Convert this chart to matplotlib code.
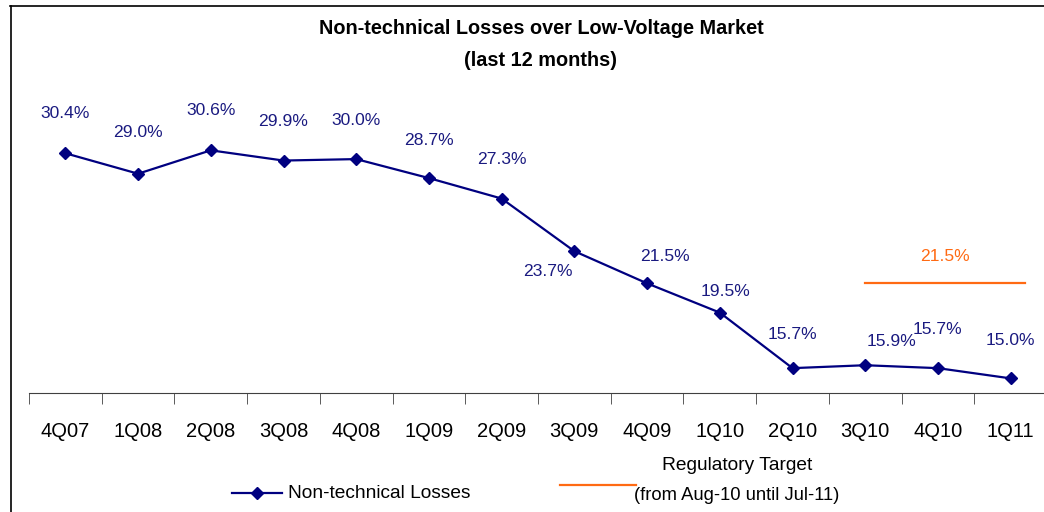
import matplotlib
matplotlib.use('Agg')
import matplotlib.pyplot as plt
from matplotlib.lines import Line2D

plt.rcParams['font.family'] = ['Liberation Sans', 'DejaVu Sans']

# data
quarters = ['4Q07', '1Q08', '2Q08', '3Q08', '4Q08', '1Q09', '2Q09',
            '3Q09', '4Q09', '1Q10', '2Q10', '3Q10', '4Q10', '1Q11']
losses = [30.4, 29.0, 30.6, 29.9, 30.0, 28.7, 27.3,
          23.7, 21.5, 19.5, 15.7, 15.9, 15.7, 15.0]
target_value = 21.5
target_span = ['3Q10', '1Q11']

# label offsets in pixels (layout only)
label_offsets = [(0, 40), (0, 41), (0, 40), (0, 39), (0, 39), (0, 38), (0, 39),
                 (-26, -20), (18, 27), (6, 21), (0, 34), (26, 24), (0, 39), (0, 38)]

NAVY = '#000080'
LABEL = '#1a1a80'
ORANGE = '#ff6a13'

W, H = 1044, 512
fig = plt.figure(figsize=(W / 100, H / 100), dpi=100)

# axes placed in pixel terms (right edge runs off the picture, like the source)
ax_left, ax_right, ax_bottom, ax_top = 29, 1047, 393, 86
ax = fig.add_axes([ax_left / W, 1 - ax_bottom / H,
                   (ax_right - ax_left) / W, (ax_bottom - ax_top) / H])

x = list(range(len(quarters)))
ax.plot(x, losses, color=NAVY, lw=1.6, marker='D', ms=6.5, zorder=3)

for xi, v, (dx, dy) in zip(x, losses, label_offsets):
    ax.annotate(f'{v:.1f}%', (xi, v), xytext=(dx, dy), textcoords='offset pixels',
                ha='center', va='center', fontsize=12.6, color=LABEL)

# regulatory target line
t0 = quarters.index(target_span[0])
t1 = quarters.index(target_span[1])
ax.plot([t0, t1 + 0.2], [target_value, target_value], color=ORANGE, lw=1.6)
ax.annotate(f'{target_value:.1f}%', ((t0 + t1 + 0.2) / 2, target_value),
            xytext=(0, 27), textcoords='offset pixels',
            ha='center', va='center', fontsize=12.6, color=ORANGE)

ax.set_xlim(-0.5, len(quarters) - 0.5)
ax.set_ylim(14, 35)
for s in ['top', 'right', 'left']:
    ax.spines[s].set_visible(False)
ax.spines['bottom'].set_color('#404040')
ax.set_yticks([])
ax.set_xticks(x)
ax.set_xticklabels(quarters, fontsize=14.5)
ax.tick_params(axis='x', which='major', length=0, pad=21)
ax.set_xticks([i - 0.5 for i in x], minor=True)
ax.tick_params(axis='x', which='minor', length=8, color='#404040', direction='out')

# title
fig.text(541 / W, 1 - 28 / H, 'Non-technical Losses over Low-Voltage Market',
         ha='center', va='center', fontsize=14.3, fontweight='bold')
fig.text(541 / W, 1 - 60 / H, '(last 12 months)',
         ha='center', va='center', fontsize=14.3, fontweight='bold')

# legend
fig.add_artist(Line2D([232 / W, 282 / W], [1 - 493 / H] * 2, color=NAVY, lw=1.6))
fig.add_artist(Line2D([257 / W], [1 - 493 / H], color=NAVY, marker='D', ms=6.5))
fig.text(288 / W, 1 - 493 / H, 'Non-technical Losses', ha='left', va='center', fontsize=13.8)
fig.add_artist(Line2D([560 / W, 636 / W], [1 - 485 / H] * 2, color=ORANGE, lw=1.6))
fig.text(737 / W, 1 - 466 / H, 'Regulatory Target', ha='center', va='center', fontsize=13.8)
fig.text(737 / W, 1 - 495 / H, '(from Aug-10 until Jul-11)', ha='center', va='center', fontsize=13.2)

# chart frame (top and left edges visible)
fig.add_artist(Line2D([10 / W, 1], [1 - 6 / H] * 2, color='black', lw=1.2))
fig.add_artist(Line2D([11 / W] * 2, [1 - 6 / H, 0], color='black', lw=1.2))

fig.savefig('out.png', dpi=100)
